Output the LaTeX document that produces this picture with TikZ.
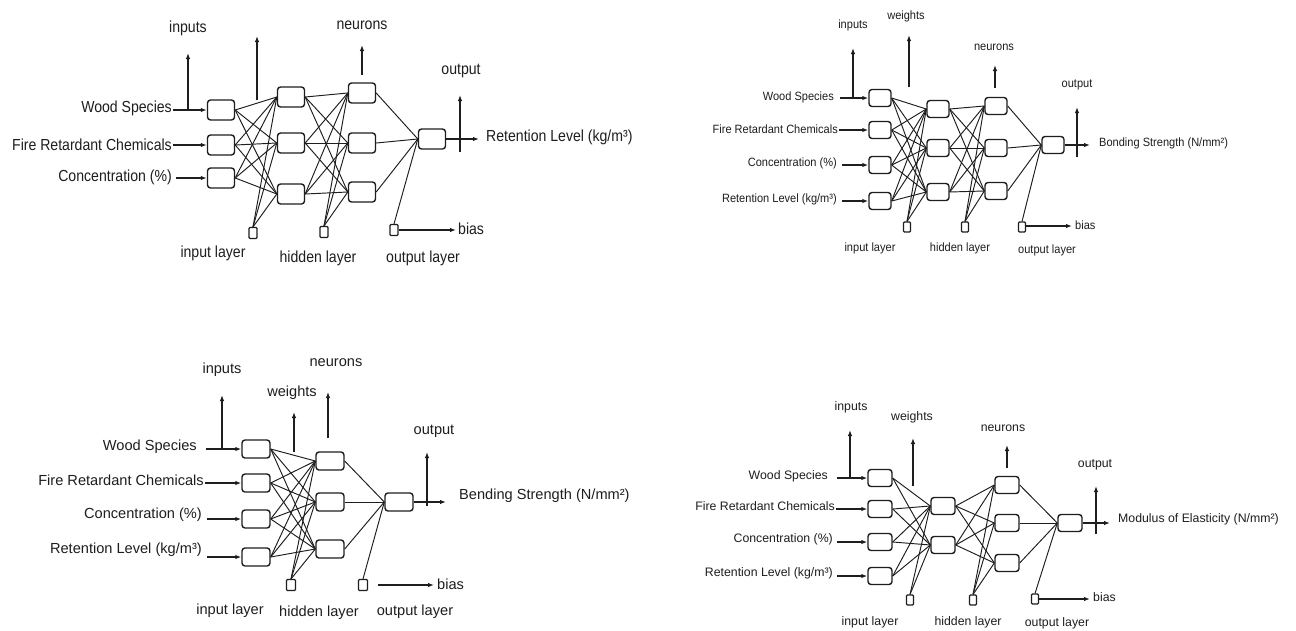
\documentclass[tikz,border=0pt]{standalone}
\usepackage{fontspec}
\setmainfont{Liberation Sans}
\newfontfamily\fA[FakeStretch=0.88]{Liberation Sans}
\newfontfamily\fB[FakeStretch=0.92]{Liberation Sans}
\newfontfamily\fC{Liberation Sans}
\usetikzlibrary{arrows.meta}
\definecolor{ink}{RGB}{30,30,30}
\tikzset{
  nb/.style={draw=ink, line width=1.4pt, rounded corners=3pt, inner sep=0pt, fill=white},
  nbA/.style={nb, minimum width=27pt, minimum height=20pt},
  nbB/.style={nb, minimum width=22pt, minimum height=17pt},
  nbC/.style={nb, minimum width=28pt, minimum height=18pt},
  nbD/.style={nb, minimum width=24pt, minimum height=17pt},
  bb/.style={draw=ink, line width=1.1pt, rounded corners=1pt, inner sep=0pt, fill=white},
  bbA/.style={bb, minimum width=8pt, minimum height=11pt},
  bbB/.style={bb, minimum width=7pt, minimum height=10pt},
  bbC/.style={bb, minimum width=9pt, minimum height=11pt},
  bbD/.style={bb, minimum width=7pt, minimum height=10pt},
  edge/.style={draw=ink, line width=0.95pt},
  arr/.style={draw=ink, line width=1.3pt, -{Latex[length=6pt,width=4.5pt]}},
  tx/.style={text=ink, inner sep=1pt},
  txA/.style={tx, font=\fA\fontsize{16}{18}\selectfont},
  txB/.style={tx, font=\fB\fontsize{12}{14}\selectfont},
  txC/.style={tx, font=\fC\fontsize{14.6}{17}\selectfont},
  txD/.style={tx, font=\fC\fontsize{12.3}{14}\selectfont},
}
\begin{document}
\begin{tikzpicture}[x=1pt,y=-1pt]
\useasboundingbox[fill=white] (0,0) rectangle (1296,630);

% ================= Panel A (top-left) =================
\node[nbA] (a-i1) at (221,110) {};
\node[nbA] (a-i2) at (221,145) {};
\node[nbA] (a-i3) at (221,178) {};
\node[nbA] (a-h1) at (291,97) {};
\node[nbA] (a-h2) at (291,143) {};
\node[nbA] (a-h3) at (291,194) {};
\node[nbA] (a-g1) at (362,93) {};
\node[nbA] (a-g2) at (362,143) {};
\node[nbA] (a-g3) at (362,192) {};
\node[nbA] (a-o) at (432,139) {};
\node[bbA] (a-b1) at (253,233) {};
\node[bbA] (a-b2) at (324,232) {};
\node[bbA] (a-b3) at (394,230) {};

\node[txA, anchor=east] (a-l1) at (173,108) {Wood Species};
\node[txA, anchor=east] (a-l2) at (173,145) {Fire Retardant Chemicals};
\node[txA, anchor=east, inner xsep=4pt] (a-l3) at (176,177) {Concentration (\%)};

\foreach \i in {1,2,3} \draw[arr] (a-l\i.east |- a-i\i.west) -- (a-i\i.west);
\foreach \i in {1,2,3} \foreach \j in {1,2,3} \draw[edge] (a-i\i.east) -- (a-h\j.west);
\foreach \j in {1,2,3} \draw[edge] (a-b1.north) -- (a-h\j.west);
\foreach \i in {1,2,3} \foreach \j in {1,2,3} \draw[edge] (a-h\i.east) -- (a-g\j.west);
\foreach \j in {1,2,3} \draw[edge] (a-b2.north) -- (a-g\j.west);
\foreach \i in {1,2,3} \draw[edge] (a-g\i.east) -- (a-o.west);
\draw[edge] (a-b3.north) -- (a-o.west);

\node[txA] (a-tin) at (188,28) {inputs};
\coordinate (a-inb) at (188,110); \coordinate (a-int) at (188,53);
\draw[arr] (a-inb) -- (a-int);
\coordinate (a-wb) at (257,100); \coordinate (a-wt) at (257,36);
\draw[arr] (a-wb) -- (a-wt);
\node[txA] (a-tne) at (362,25) {neurons};
\coordinate (a-nb) at (362,75); \coordinate (a-nt) at (362,45);
\draw[arr] (a-nb) -- (a-nt);
\node[txA] (a-tout) at (461,71) {output};
\coordinate (a-ob) at (460,152); \coordinate (a-ot) at (460,95);
\draw[arr] (a-ob) -- (a-ot);
\coordinate (a-oe) at (479,139);
\draw[arr] (a-o.east) -- (a-oe);
\node[txA, anchor=west] (a-res) at (485,137) {Retention Level (kg/m³)};
\coordinate (a-be) at (456,230);
\draw[arr] (a-b3.east) -- (a-be);
\node[txA, anchor=west] (a-bias) at (457,229) {bias};
\node[txA] (a-ly1) at (213,253) {input layer};
\node[txA] (a-ly2) at (318,258) {hidden layer};
\node[txA] (a-ly3) at (423,258) {output layer};

% ================= Panel B (top-right) =================
\node[nbB] (b-i1) at (880,98) {};
\node[nbB] (b-i2) at (880,130) {};
\node[nbB] (b-i3) at (880,165) {};
\node[nbB] (b-i4) at (880,201) {};
\node[nbB] (b-h1) at (938,109) {};
\node[nbB] (b-h2) at (938,148) {};
\node[nbB] (b-h3) at (938,192) {};
\node[nbB] (b-g1) at (996,106) {};
\node[nbB] (b-g2) at (996,148) {};
\node[nbB] (b-g3) at (996,191) {};
\node[nbB] (b-o) at (1053,145) {};
\node[bbB] (b-b1) at (907,227) {};
\node[bbB] (b-b2) at (965,227) {};
\node[bbB] (b-b3) at (1022,227) {};

\node[txB, anchor=east, inner xsep=6pt] (b-l1) at (840,97) {Wood Species};
\node[txB, anchor=east] (b-l2) at (839,129) {Fire Retardant Chemicals};
\node[txB, anchor=east, inner xsep=5pt] (b-l3) at (842,163) {Concentration (\%)};
\node[txB, anchor=east, inner xsep=5pt] (b-l4) at (842,199) {Retention Level (kg/m³)};

\foreach \i in {1,2,3,4} \draw[arr] (b-l\i.east |- b-i\i.west) -- (b-i\i.west);
\foreach \i in {1,2,3,4} \foreach \j in {1,2,3} \draw[edge] (b-i\i.east) -- (b-h\j.west);
\foreach \j in {1,2,3} \draw[edge] (b-b1.north) -- (b-h\j.west);
\foreach \i in {1,2,3} \foreach \j in {1,2,3} \draw[edge] (b-h\i.east) -- (b-g\j.west);
\foreach \j in {1,2,3} \draw[edge] (b-b2.north) -- (b-g\j.west);
\foreach \i in {1,2,3} \draw[edge] (b-g\i.east) -- (b-o.west);
\draw[edge] (b-b3.north) -- (b-o.west);

\node[txB] (b-tin) at (853,25) {inputs};
\coordinate (b-inb) at (853,98); \coordinate (b-int) at (853,48);
\draw[arr] (b-inb) -- (b-int);
\node[txB] (b-tw) at (906,16) {weights};
\coordinate (b-wb) at (909,87); \coordinate (b-wt) at (909,35);
\draw[arr] (b-wb) -- (b-wt);
\node[txB] (b-tne) at (994,47) {neurons};
\coordinate (b-nb) at (995,88); \coordinate (b-nt) at (995,65);
\draw[arr] (b-nb) -- (b-nt);
\node[txB] (b-tout) at (1077,85) {output};
\coordinate (b-ob) at (1077,157); \coordinate (b-ot) at (1077,107);
\draw[arr] (b-ob) -- (b-ot);
\coordinate (b-oe) at (1090,145);
\draw[arr] (b-o.east) -- (b-oe);
\node[txB, anchor=west] (b-res) at (1098,143) {Bonding Strength (N/mm²)};
\coordinate (b-be) at (1072,226);
\draw[arr] (b-b3.east |- b-be) -- (b-be);
\node[txB, anchor=west] (b-bias) at (1074,225) {bias};
\node[txB] (b-ly1) at (870,248) {input layer};
\node[txB] (b-ly2) at (960,248) {hidden layer};
\node[txB] (b-ly3) at (1047,250) {output layer};

% ================= Panel C (bottom-left) =================
\node[nbC] (c-i1) at (256,449) {};
\node[nbC] (c-i2) at (256,483) {};
\node[nbC] (c-i3) at (256,519) {};
\node[nbC] (c-i4) at (256,557) {};
\node[nbC] (c-h1) at (330,461) {};
\node[nbC] (c-h2) at (330,502) {};
\node[nbC] (c-h3) at (330,549) {};
\node[nbC] (c-o) at (399,502) {};
\node[bbC] (c-b1) at (291,585) {};
\node[bbC] (c-b2) at (363,585) {};

\node[txC, anchor=east, inner xsep=9pt] (c-l1) at (206,447) {Wood Species};
\node[txC, anchor=east] (c-l2) at (205,480) {Fire Retardant Chemicals};
\node[txC, anchor=east, inner xsep=5pt] (c-l3) at (207,515) {Concentration (\%)};
\node[txC, anchor=east, inner xsep=5pt] (c-l4) at (207,550) {Retention Level (kg/m³)};

\foreach \i in {1,2,3,4} \draw[arr] (c-l\i.east |- c-i\i.west) -- (c-i\i.west);
\foreach \i in {1,2,3,4} \foreach \j in {1,2,3} \draw[edge] (c-i\i.east) -- (c-h\j.west);
\foreach \j in {1,2,3} \draw[edge] (c-b1.north) -- (c-h\j.west);
\foreach \i in {1,2,3} \draw[edge] (c-h\i.east) -- (c-o.west);
\draw[edge] (c-b2.north) -- (c-o.west);

\node[txC] (c-tin) at (222,370) {inputs};
\coordinate (c-inb) at (222,449); \coordinate (c-int) at (222,395);
\draw[arr] (c-inb) -- (c-int);
\node[txC] (c-tw) at (292,393) {weights};
\coordinate (c-wb) at (294,452); \coordinate (c-wt) at (294,412);
\draw[arr] (c-wb) -- (c-wt);
\node[txC] (c-tne) at (336,363) {neurons};
\coordinate (c-nb) at (328,438); \coordinate (c-nt) at (328,392);
\draw[arr] (c-nb) -- (c-nt);
\node[txC] (c-tout) at (434,431) {output};
\coordinate (c-ob) at (427,506); \coordinate (c-ot) at (427,452);
\draw[arr] (c-ob) -- (c-ot);
\coordinate (c-oe) at (446,502);
\draw[arr] (c-o.east) -- (c-oe);
\node[txC, anchor=west] (c-res) at (458,496) {Bending Strength (N/mm²)};
\coordinate (c-bs) at (378,585); \coordinate (c-be) at (434,585);
\draw[arr] (c-bs) -- (c-be);
\node[txC, anchor=west] (c-bias) at (436,584) {bias};
\node[txC] (c-ly1) at (230,611) {input layer};
\node[txC] (c-ly2) at (319,613) {hidden layer};
\node[txC] (c-ly3) at (415,612) {output layer};

% ================= Panel D (bottom-right) =================
\node[nbD] (d-i1) at (880,478) {};
\node[nbD] (d-i2) at (880,509) {};
\node[nbD] (d-i3) at (880,542) {};
\node[nbD] (d-i4) at (880,576) {};
\node[nbD] (d-h1) at (943,506) {};
\node[nbD] (d-h2) at (943,545) {};
\node[nbD] (d-g1) at (1007,485) {};
\node[nbD] (d-g2) at (1007,523) {};
\node[nbD] (d-g3) at (1007,563) {};
\node[nbD] (d-o) at (1070,523) {};
\node[bbD] (d-b1) at (910,600) {};
\node[bbD] (d-b2) at (973,600) {};
\node[bbD] (d-b3) at (1035,599) {};

\node[txD, anchor=east, inner xsep=9pt] (d-l1) at (837,476) {Wood Species};
\node[txD, anchor=east] (d-l2) at (836,506) {Fire Retardant Chemicals};
\node[txD, anchor=east, inner xsep=4pt] (d-l3) at (837,539) {Concentration (\%)};
\node[txD, anchor=east, inner xsep=4pt] (d-l4) at (837,573) {Retention Level (kg/m³)};

\foreach \i in {1,2,3,4} \draw[arr] (d-l\i.east |- d-i\i.west) -- (d-i\i.west);
\foreach \i in {1,2,3,4} \foreach \j in {1,2} \draw[edge] (d-i\i.east) -- (d-h\j.west);
\foreach \j in {1,2} \draw[edge] (d-b1.north) -- (d-h\j.west);
\foreach \i in {1,2} \foreach \j in {1,2,3} \draw[edge] (d-h\i.east) -- (d-g\j.west);
\foreach \j in {1,2,3} \draw[edge] (d-b2.north) -- (d-g\j.west);
\foreach \i in {1,2,3} \draw[edge] (d-g\i.east) -- (d-o.west);
\draw[edge] (d-b3.north) -- (d-o.west);

\node[txD] (d-tin) at (851,407) {inputs};
\coordinate (d-inb) at (850,478); \coordinate (d-int) at (850,430);
\draw[arr] (d-inb) -- (d-int);
\node[txD] (d-tw) at (912,417) {weights};
\coordinate (d-wb) at (913,486); \coordinate (d-wt) at (913,438);
\draw[arr] (d-wb) -- (d-wt);
\node[txD] (d-tne) at (1003,428) {neurons};
\coordinate (d-nb) at (1007,468); \coordinate (d-nt) at (1007,445);
\draw[arr] (d-nb) -- (d-nt);
\node[txD] (d-tout) at (1095,465) {output};
\coordinate (d-ob) at (1096,534); \coordinate (d-ot) at (1096,486);
\draw[arr] (d-ob) -- (d-ot);
\coordinate (d-oe) at (1110,523);
\draw[arr] (d-o.east) -- (d-oe);
\node[txD, anchor=west] (d-res) at (1117,519) {Modulus of Elasticity (N/mm²)};
\coordinate (d-be) at (1090,599);
\draw[arr] (d-b3.east) -- (d-be);
\node[txD, anchor=west] (d-bias) at (1092,597) {bias};
\node[txD] (d-ly1) at (870,622) {input layer};
\node[txD] (d-ly2) at (968,622) {hidden layer};
\node[txD] (d-ly3) at (1057,623) {output layer};
\end{tikzpicture}
\end{document}
